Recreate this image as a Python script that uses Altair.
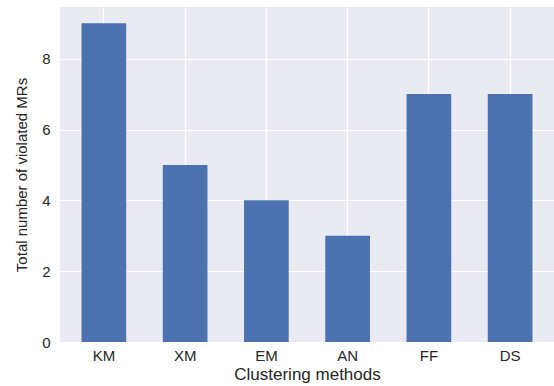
import altair as alt
import pandas as pd

methods = ["KM", "XM", "EM", "AN", "FF", "DS"]
violated = [9, 5, 4, 3, 7, 7]

df = pd.DataFrame({"method": methods, "count": violated})

chart = alt.Chart(df).mark_bar(color="#4C72B0").encode(
    x=alt.X("method:N", sort=methods, title="Clustering methods",
            scale=alt.Scale(paddingInner=0.45, paddingOuter=0.265),
            axis=alt.Axis(labelAngle=0, grid=True, gridColor="white", gridWidth=1.2,
                          bandPosition=0.5, ticks=False, domain=False,
                          labelFont="Liberation Sans", labelFontSize=15, labelColor="#262626",
                          labelPadding=6, titleFont="Liberation Sans", titleFontSize=17,
                          titleColor="#262626", titleFontWeight="normal", titlePadding=3)),
    y=alt.Y("count:Q", title="Total number of violated MRs",
            scale=alt.Scale(domain=[0, 9.46], nice=False),
            axis=alt.Axis(values=[0, 2, 4, 6, 8], grid=True, gridColor="white", gridWidth=1.2,
                          ticks=False, domain=False, labelFont="Liberation Sans",
                          labelFontSize=15, labelColor="#262626", labelPadding=10,
                          titleFont="Liberation Sans", titleFontSize=15, titleColor="#262626",
                          titleFontWeight="normal", titlePadding=12)),
).properties(
    width=494, height=335,
    autosize=alt.AutoSizeParams(type="none"),
    padding={"left": 60, "top": 7, "right": 0, "bottom": 44},
).configure_view(
    fill="#EAEAF2", stroke=None
)

chart.save("out.html", embed_options={"renderer": "svg", "actions": False})
